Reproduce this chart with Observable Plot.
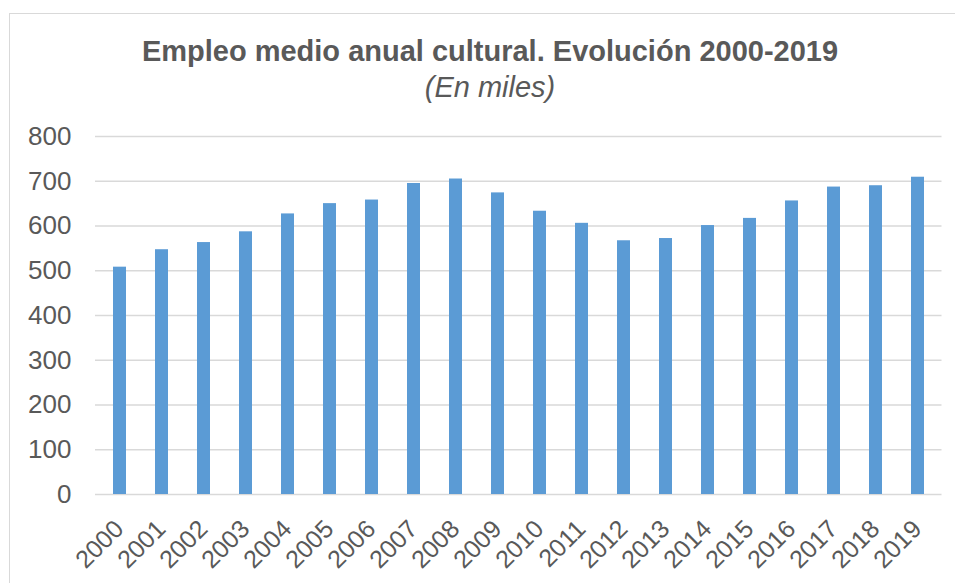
<!DOCTYPE html>
<html>
<head>
<meta charset="utf-8">
<script src="https://cdn.jsdelivr.net/npm/d3@7"></script>
<script src="https://cdn.jsdelivr.net/npm/@observablehq/plot@0.6"></script>
<style>
  html, body { margin: 0; padding: 0; background: #fff; overflow: hidden; }
  #wrap { position: relative; width: 955px; height: 583px; font-family: "Liberation Sans", Arial, sans-serif; color: #595959; }
  #frame { position: absolute; left: 9px; top: 13px; width: 1000px; height: 700px; border-left: 1.5px solid #d9d9d9; border-top: 1.5px solid #d9d9d9; }
  #titles { position: relative; width: 980px; padding-top: 33px; text-align: center; }
  #title { font-size: 29px; font-weight: bold; line-height: 36px; height: 36px; }
  #subtitle { font-size: 29px; font-style: italic; line-height: 36px; height: 36px; }
  #chart { position: relative; }
  #chart svg { display: block; overflow: visible; }
</style>
</head>
<body>
<div id="wrap">
  <div id="frame"></div>
  <div id="titles">
    <div id="title">Empleo medio anual cultural. Evolución 2000-2019</div>
    <div id="subtitle">(En miles)</div>
  </div>
  <div id="chart"></div>
</div>
<script>
const years = ["2000","2001","2002","2003","2004","2005","2006","2007","2008","2009",
               "2010","2011","2012","2013","2014","2015","2016","2017","2018","2019"];
const values = [508, 547, 563, 587, 627, 650, 658, 695, 705, 674,
                633, 606, 567, 572, 601, 617, 656, 687, 690, 709];
const yTicks = [0, 100, 200, 300, 400, 500, 600, 700, 800];

const data = years.map((year, i) => ({year, value: values[i]}));

const chart = Plot.plot({
  width: 955,
  height: 478,
  marginTop: 31,
  marginBottom: 89,
  marginLeft: 95,
  marginRight: 13.5,
  style: {fontFamily: "Liberation Sans, Arial, sans-serif", color: "#595959", background: "transparent", overflow: "visible"},
  x: {domain: years, paddingInner: 0.7, paddingOuter: 0.35, axis: null},
  y: {domain: [0, 800], axis: null},
  marks: [
    Plot.ruleY(yTicks, {stroke: "#d9d9d9", strokeWidth: 1.4}),
    Plot.barY(data, {x: "year", y: "value", fill: "#5b9bd5", inset: 0}),
    Plot.axisY({ticks: yTicks, tickSize: 0, tickPadding: 24, fontSize: 26, fill: "#595959", label: null}),
    Plot.text(years, {x: d => d, y: () => 0, text: d => d, rotate: -45, textAnchor: "end", lineAnchor: "bottom",
                      dx: 5, dy: 36, fontSize: 25, fill: "#595959"})
  ]
});
document.getElementById("chart").appendChild(chart);
</script>
</body>
</html>
